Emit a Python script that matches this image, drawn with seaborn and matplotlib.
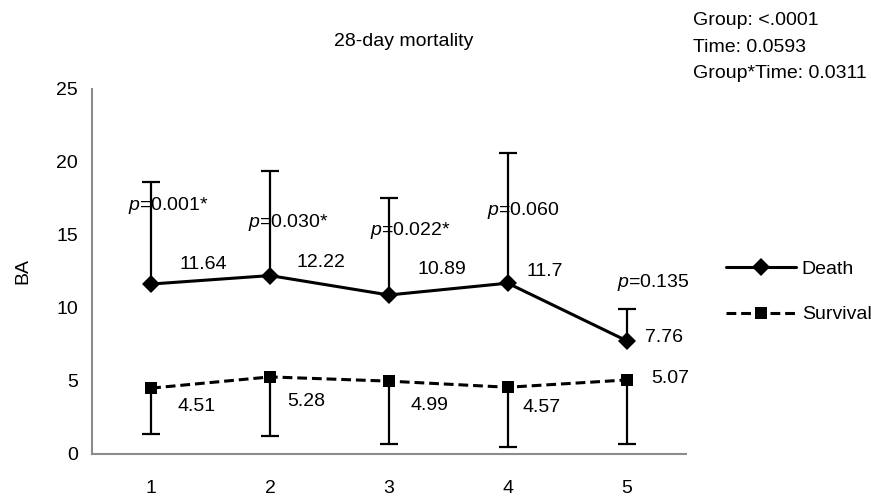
import pandas as pd
import numpy as np
import seaborn as sns
import matplotlib.pyplot as plt
from matplotlib.lines import Line2D

# values
time_points = [1, 2, 3, 4, 5]
death_mean = [11.64, 12.22, 10.89, 11.7, 7.76]
death_upper = [18.6, 19.4, 17.5, 20.6, 9.9]
survival_mean = [4.51, 5.28, 4.99, 4.57, 5.07]
survival_lower = [1.4, 1.2, 0.7, 0.5, 0.7]
p_values = ['0.001*', '0.030*', '0.022*', '0.060', '0.135']
stats_lines = ['Group: <.0001', 'Time: 0.0593', 'Group*Time: 0.0311']
y_ticks = [0, 5, 10, 15, 20, 25]

# Set the style, then the fonts (set_theme resets font.family)
sns.set_theme(style="white")
plt.rcParams['font.family'] = ['Liberation Sans', 'DejaVu Sans']
plt.rcParams['mathtext.fontset'] = 'custom'
plt.rcParams['mathtext.rm'] = 'Liberation Sans'
plt.rcParams['mathtext.it'] = 'Liberation Sans:italic'
plt.rcParams['font.size'] = 14
plt.rcParams['text.color'] = 'black'
plt.rcParams['axes.labelcolor'] = 'black'

df = pd.DataFrame({
    'Time': time_points * 2,
    'BA': death_mean + survival_mean,
    'Group': ['Death'] * 5 + ['Survival'] * 5,
})

fig = plt.figure(figsize=(8.71, 4.96), dpi=100)
ax = fig.add_axes([0.1053, 0.0847, 0.6823, 0.7359])

gray = '#8c8c8c'

# error bars: upper only for Death, lower only for Survival
d_mean = np.array(death_mean)
s_mean = np.array(survival_mean)
zeros = np.zeros(len(time_points))
for mean, err in [(d_mean, [zeros, np.array(death_upper) - d_mean]),
                  (s_mean, [s_mean - np.array(survival_lower), zeros])]:
    _, caps, _ = ax.errorbar(time_points, mean, yerr=err, fmt='none', ecolor='black',
                             elinewidth=1.6, capsize=6.5, capthick=1.6, zorder=1)
    # hide the cap that sits on the mean itself
    for cap in caps:
        if np.allclose(cap.get_ydata(), mean):
            cap.set_visible(False)

sns.lineplot(data=df, x='Time', y='BA', hue='Group', style='Group',
             palette={'Death': 'black', 'Survival': 'black'},
             markers={'Death': 'D', 'Survival': 's'},
             dashes={'Death': '', 'Survival': (3.2, 1.6)},
             markersize=9, markeredgewidth=0, linewidth=2.2,
             legend=False, ax=ax, zorder=3)

# value labels
death_offsets = [(52, 20), (51, 13), (53, 25), (37, 12), (18, 3)]
surv_offsets = [(45, -18), (36, -25), (41, -24), (34, -20), (25, 1)]
for i, t in enumerate(time_points):
    ha = 'left' if i == len(time_points) - 1 else 'center'
    ax.annotate(f'{death_mean[i]:g}', (t, death_mean[i]), xytext=death_offsets[i],
                textcoords='offset pixels', ha=ha, va='center', fontsize=14)
    ax.annotate(f'{survival_mean[i]:g}', (t, survival_mean[i]), xytext=surv_offsets[i],
                textcoords='offset pixels', ha=ha, va='center', fontsize=14)

# p-value labels (positions around the error bars)
p_pos = [(1.145, 17.0), (2.153, 15.86), (3.18, 15.28), (4.128, 16.65), (5.225, 11.75)]
for (px, py), p in zip(p_pos, p_values):
    ax.text(px, py, f'$p$={p}', ha='center', va='center', fontsize=14)

# axes
ax.set_xlim(0.5, 5.5)
ax.set_ylim(0, 25)
ax.set_yticks(y_ticks)
ax.set_xticks(time_points)
ax.set_xticklabels([str(t) for t in time_points])
ax.set_xticks([t + 0.5 for t in time_points], minor=True)
ax.tick_params(axis='x', which='major', length=0, pad=19, labelsize=14, labelcolor='black')
ax.tick_params(axis='x', which='minor', length=6, width=1.3, color=gray, direction='out')
ax.tick_params(axis='y', length=5, width=1.3, color=gray, direction='out', pad=5,
               labelsize=14, labelcolor='black')
ax.set_xlabel('')
ax.set_ylabel('BA', fontsize=14)
ax.yaxis.set_label_coords(-0.102, 0.5)
sns.despine(ax=ax)
for side in ['left', 'bottom']:
    ax.spines[side].set_color(gray)
    ax.spines[side].set_linewidth(1.5)

# title and stats text
fig.text(0.463, 0.916, '28-day mortality', ha='center', va='center', fontsize=14)
fig.text(0.796, 0.976, '\n'.join(stats_lines), ha='left', va='top', fontsize=14,
         linespacing=1.75)

# legend
handles = [
    Line2D([], [], color='black', lw=2.2, marker='D', markersize=9, markeredgewidth=0),
    Line2D([], [], color='black', lw=2.2, ls=(0, (3.2, 1.6)), marker='s', markersize=9,
           markeredgewidth=0),
]
fig.legend(handles, ['Death', 'Survival'], loc='center left', bbox_to_anchor=(0.8335, 0.412),
           frameon=False, fontsize=14, handlelength=3.6, handletextpad=0.3,
           labelspacing=1.45, borderpad=0, borderaxespad=0)

fig.savefig('out.png', dpi=100)
